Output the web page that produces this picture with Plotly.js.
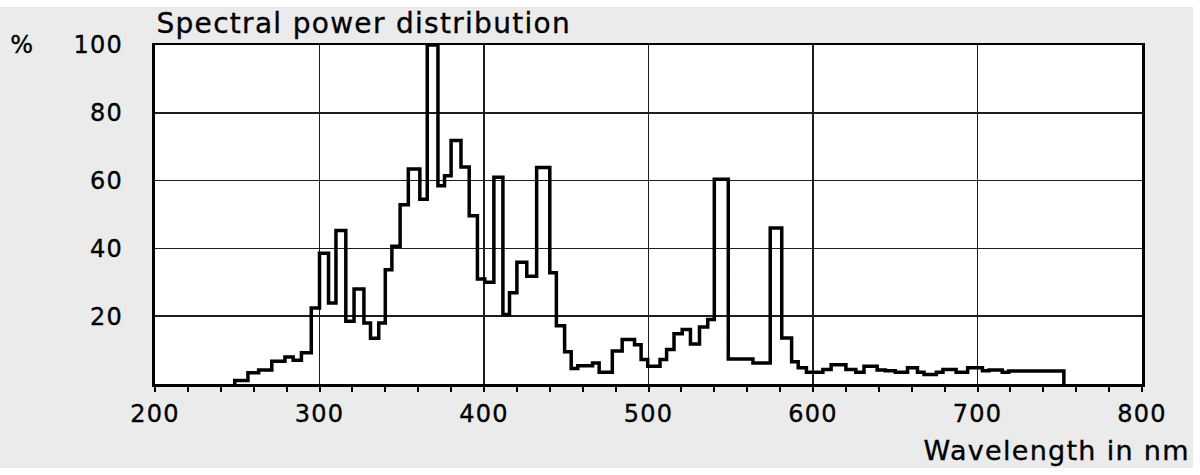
<!DOCTYPE html>
<html>
<head>
<meta charset="utf-8">
<script src="https://cdn.plot.ly/plotly-3.0.1.min.js"></script>
<style>
  html, body { margin: 0; padding: 0; background: #ffffff; }
  #chart { position: absolute; left: 0; top: 7px; width: 1193px; height: 461px; overflow: hidden; }
  #chart svg text { letter-spacing: 1.3px; stroke: #000; stroke-width: 0.35px; }
</style>
</head>
<body>
<div id="chart"></div>
<script>
// Wavelength (nm) at the start of each step, and relative power (%)
const wavelength = [248.5, 248.5, 256.5, 263, 271, 279, 284, 289, 295, 300, 305.5, 310, 316, 321, 327, 331, 336, 340, 344, 349, 354, 361, 365.5, 372, 376, 380, 386, 391, 396, 400.5, 406, 411.5, 415.5, 420, 426, 432, 440, 444, 449, 453, 457, 466, 470, 478, 484, 491.5, 495.5, 499.5, 507, 511, 515.5, 520.5, 525.5, 531, 536, 540, 548.5, 563.5, 574, 581, 587, 591, 596, 606, 611, 620, 626, 631, 639, 644, 650, 657.5, 663.5, 667.5, 675, 679, 687, 694, 703, 707, 715, 719, 752.5];
const power = [0, 1, 3.3, 4.1, 6.7, 8, 7, 9.2, 22.4, 38.6, 23.9, 45.3, 18.5, 28, 18, 13.5, 18, 33.7, 40.6, 52.9, 63.4, 54.5, 100, 58.5, 61.4, 71.8, 64, 49.6, 31, 30, 61, 20.5, 26.9, 35.9, 31.8, 63.9, 32.8, 17.2, 9.5, 4.6, 5.4, 6.2, 3.5, 9.7, 13.1, 11.6, 7.2, 5.2, 7.2, 10.2, 14.8, 16.1, 11.8, 16.8, 19, 60.4, 7.4, 6.2, 46, 13.6, 6.6, 4.8, 3.5, 4.3, 5.7, 4.3, 3.5, 5.2, 4.1, 3.9, 3.5, 4.8, 3.5, 2.8, 3.5, 4.3, 3.5, 4.8, 3.9, 4.1, 3.5, 3.8, 0];

const xTickVals = [200, 300, 400, 500, 600, 700, 800];
const yTickVals = [20, 40, 60, 80, 100];

const FONT = 'DejaVu Sans, sans-serif';

const trace = {
  x: wavelength,
  y: power,
  type: 'scatter',
  mode: 'lines',
  line: { shape: 'hv', color: '#000000', width: 3.5 },
  hoverinfo: 'skip'
};

const layout = {
  width: 1193,
  height: 461,
  paper_bgcolor: '#ebebeb',
  plot_bgcolor: '#ffffff',
  margin: { l: 155, r: 51, t: 38, b: 84 },
  showlegend: false,
  font: { family: FONT, color: '#000000', size: 24 },
  xaxis: {
    range: [200, 800],
    tickvals: xTickVals,
    ticktext: xTickVals.map(String),
    ticks: 'outside',
    ticklen: 5,
    tickwidth: 2,
    tickcolor: '#000',
    minor: { dtick: 20, tick0: 200, ticks: 'outside', ticklen: 5, tickwidth: 2, tickcolor: '#000', showgrid: false },
    showgrid: true,
    gridcolor: '#1e1e1e',
    gridwidth: 1.5,
    showline: true,
    linecolor: '#000',
    linewidth: 2.5,
    mirror: true,
    zeroline: false,
    tickfont: { family: FONT, size: 24, color: '#000' },
    ticklabelstandoff: 2,
    fixedrange: true
  },
  yaxis: {
    range: [0, 100],
    tickvals: yTickVals,
    ticktext: yTickVals.map(String),
    ticks: '',
    showgrid: true,
    gridcolor: '#1e1e1e',
    gridwidth: 1.5,
    showline: true,
    linecolor: '#000',
    linewidth: 3,
    mirror: true,
    zeroline: false,
    tickfont: { family: FONT, size: 24, color: '#000' },
    ticklabelstandoff: 24,
    fixedrange: true
  },
  annotations: [
    {
      text: 'Spectral power distribution',
      xref: 'paper', yref: 'paper',
      x: 0, y: 1, xanchor: 'left', yanchor: 'bottom',
      xshift: 17, yshift: 3,
      showarrow: false,
      font: { family: FONT, size: 28, color: '#000' }
    },
    {
      text: '%',
      xref: 'paper', yref: 'paper',
      x: 0, y: 1, xanchor: 'center', yanchor: 'middle',
      xshift: -133, yshift: 0,
      showarrow: false,
      font: { family: FONT, size: 24, color: '#000' }
    },
    {
      text: 'Wavelength in nm',
      xref: 'paper', yref: 'paper',
      x: 1, y: 0, xanchor: 'right', yanchor: 'top',
      xshift: 39, yshift: -49,
      showarrow: false,
      font: { family: FONT, size: 27, color: '#000' }
    }
  ]
};

Plotly.newPlot('chart', [trace], layout, { displayModeBar: false, staticPlot: true });
</script>
</body>
</html>
